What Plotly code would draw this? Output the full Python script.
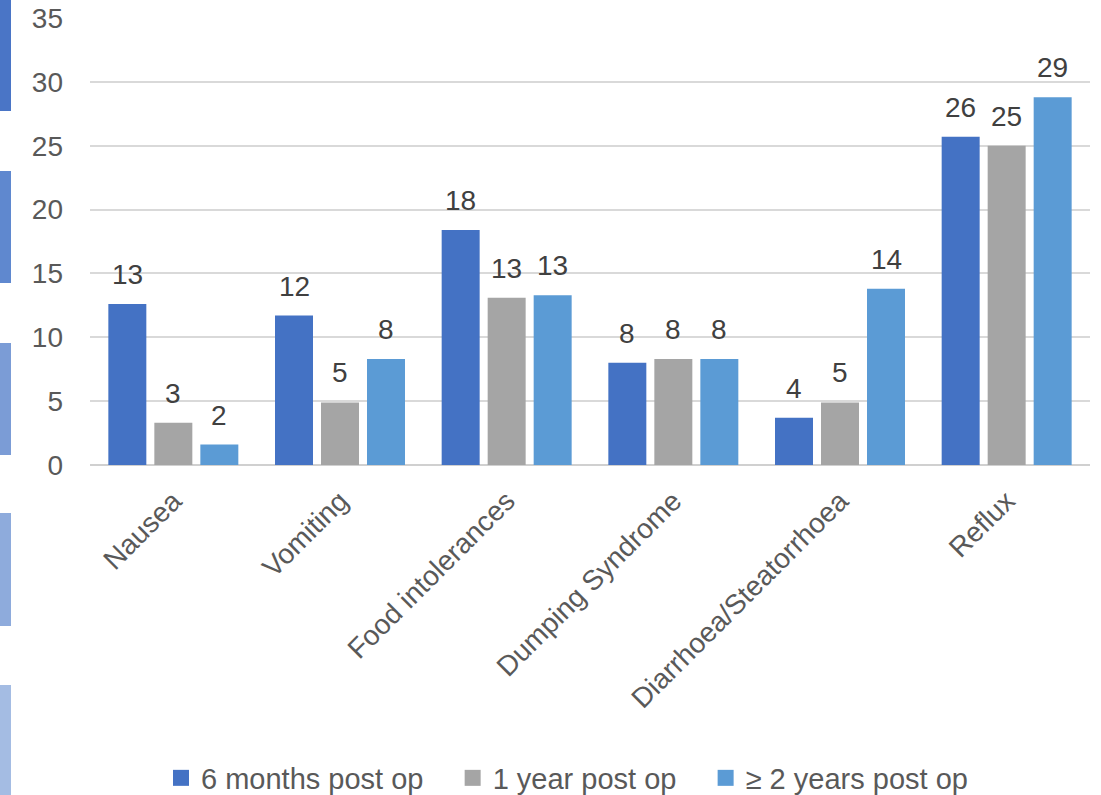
import plotly.graph_objects as go

# Post-operative symptoms by follow-up period
categories = ["Nausea", "Vomiting", "Food intolerances", "Dumping Syndrome",
              "Diarrhoea/Steatorrhoea", "Reflux"]
six_months = [12.6, 11.7, 18.4, 8.0, 3.7, 25.7]
one_year = [3.3, 4.9, 13.1, 8.3, 4.9, 25.0]
two_years = [1.6, 8.3, 13.3, 8.3, 13.8, 28.8]

series_names = ["6 months post op", "1 year post op", "\u2265 2 years post op"]
series_values = [six_months, one_year, two_years]
series_colors = ["#4472c4", "#a5a5a5", "#5b9bd5"]

y_ticks = [0, 5, 10, 15, 20, 25, 30, 35]

FONT = "Liberation Sans, Arial, sans-serif"
W, H = 1101, 795
M_L, M_R, M_T, M_B = 90, 11, 18, 330
plot_h = H - M_T - M_B

fig = go.Figure()
for name, vals, col in zip(series_names, series_values, series_colors):
    fig.add_trace(go.Bar(
        x=categories, y=vals, name=name, showlegend=False,
        marker=dict(color=col, line=dict(width=0)),
    ))

# legend entries with larger square swatches; trailing no-break spaces widen the gaps
PAD = "\u00a0" * 3
for name, col in zip(series_names, series_colors):
    fig.add_trace(go.Scatter(
        x=[None], y=[None], mode="markers", name=name + PAD,
        marker=dict(symbol="square", size=18, color=col),
        showlegend=True,
    ))

# value labels above each bar, rounded to whole numbers
offsets = [-46, 0, 46]
for vals, dx in zip(series_values, offsets):
    for cat, v in zip(categories, vals):
        fig.add_annotation(
            x=cat, y=v, xref="x", yref="y", text=f"{v:.0f}",
            showarrow=False, xshift=dx, yshift=12, yanchor="bottom",
            font=dict(family=FONT, size=28, color="#404040"),
        )

# decorative strips along the left edge
strips = [(0, 111, "#4a75c6"), (171, 283, "#5f88cf"), (343, 455, "#7b9cd6"),
          (513, 626, "#8eabdc"), (685, 795, "#a4bce3")]
for top, bottom, col in strips:
    fig.add_shape(
        type="rect", xref="paper", yref="paper",
        x0=-M_L / 1000, x1=(11 - M_L) / 1000,
        y0=(H - M_B - bottom) / plot_h, y1=(H - M_B - top) / plot_h,
        fillcolor=col, line=dict(width=0), layer="above",
    )

fig.update_layout(
    width=W, height=H,
    margin=dict(l=M_L, r=M_R, t=M_T, b=M_B, autoexpand=False),
    paper_bgcolor="white", plot_bgcolor="white",
    barmode="group", bargap=0.172, bargroupgap=0.174,
    font=dict(family=FONT, color="#595959"),
    showlegend=True,
    legend=dict(
        orientation="h", x=0.071, xanchor="left",
        yref="container", y=(H - 778) / H, yanchor="middle",
        font=dict(family=FONT, size=29, color="#595959"),
        itemwidth=30, traceorder="normal", itemsizing="trace",
    ),
    xaxis=dict(
        tickangle=-45, tickfont=dict(family=FONT, size=28, color="#595959"),
        showgrid=False, showline=False, ticks="", ticklabelstandoff=13,
    ),
    yaxis=dict(
        range=[0, 35], tickvals=y_ticks,
        tickfont=dict(family=FONT, size=28, color="#595959"),
        showgrid=True, gridcolor="#d9d9d9", gridwidth=1.5,
        zeroline=True, zerolinecolor="#d0d0d0", zerolinewidth=2,
        showline=False, ticks="", ticklabelstandoff=26,
    ),
)

fig.write_html("out.html")
